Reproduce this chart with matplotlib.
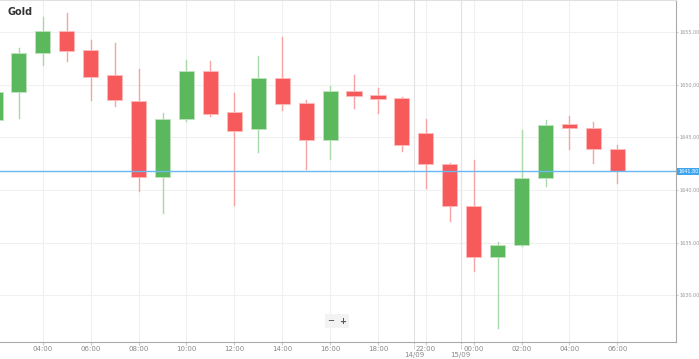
import numpy as np
import matplotlib
matplotlib.use("Agg")
import matplotlib.pyplot as plt
from matplotlib.patches import Rectangle

# hourly candles, left to right
opens = [1646.66, 1649.33, 1653.03, 1655.12, 1653.32, 1650.94, 1648.47, 1641.25, 1646.76,
         1651.32, 1647.42, 1645.81, 1650.66, 1648.28, 1644.76, 1649.42, 1649.04, 1648.75,
         1645.42, 1642.48, 1638.49, 1633.64, 1634.78, 1641.15, 1646.28, 1645.90, 1643.90]
closes = [1649.33, 1653.03, 1655.12, 1653.22, 1650.75, 1648.56, 1641.25, 1646.76, 1651.32,
          1647.23, 1645.62, 1650.66, 1648.18, 1644.76, 1649.42, 1648.94, 1648.66, 1644.29,
          1642.48, 1638.49, 1633.64, 1634.78, 1641.15, 1646.18, 1645.90, 1643.90, 1641.80]
highs = [1649.50, 1653.50, 1656.45, 1656.83, 1654.27, 1653.98, 1651.51, 1647.33, 1652.37,
         1652.27, 1649.23, 1652.75, 1654.55, 1648.56, 1649.90, 1650.94, 1649.70, 1648.85,
         1646.76, 1642.60, 1642.86, 1635.07, 1645.71, 1646.66, 1647.04, 1646.47, 1644.29]
lows = [1646.47, 1646.85, 1651.90, 1652.27, 1648.56, 1647.99, 1639.91, 1637.82, 1646.57,
        1647.04, 1638.58, 1643.62, 1647.61, 1642.00, 1642.95, 1647.80, 1647.33, 1643.72,
        1640.20, 1637.06, 1632.31, 1626.90, 1634.70, 1640.39, 1643.90, 1642.57, 1640.67]

tick_pos = [2, 4, 6, 8, 10, 12, 14, 16, 18, 20, 22, 24, 26]
tick_labels = ["04:00", "06:00", "08:00", "10:00", "12:00", "14:00", "16:00",
               "18:00", "22:00", "00:00", "02:00", "04:00", "06:00"]
date_pos = [17.5, 19.45]
date_labels = ["14/09", "15/09"]
y_ticks = [1630, 1635, 1640, 1645, 1650, 1655]
last_price = 1641.80

green, red = "#5cb85c", "#f65a5a"
green_w, red_w = "#a9d9a9", "#f7a3a3"

fig = plt.figure(figsize=(6.99, 3.59), dpi=100)
ax = fig.add_axes([0, 1 - 342 / 359, 676 / 699, 342 / 359])

w = 0.63
for i in range(len(opens)):
    o, c, h, l = opens[i], closes[i], highs[i], lows[i]
    up = c >= o
    ax.plot([i, i], [l, h], color=green_w if up else red_w, lw=1, zorder=2)
    ax.add_patch(Rectangle((i - w / 2, min(o, c)), w, max(abs(c - o), 0.3),
                           facecolor=green if up else red,
                           edgecolor="#bfe3bf" if up else "#fbb", lw=0.6, zorder=3))

ax.set_xlim(0.21, 28.45)
ax.set_ylim(1625.56, 1658.07)

for y in y_ticks:
    ax.axhline(y, color="#f0f0f0", lw=0.8, zorder=0)
for x in tick_pos:
    ax.axvline(x, color="#f0f0f0", lw=0.8, zorder=0)
for x in date_pos:
    ax.axvline(x, color="#e2e2e2", lw=0.8, zorder=0)

ax.axhline(last_price, color="#6ab8f2", lw=1, zorder=4)

ax.set_xticks(tick_pos)
ax.set_xticklabels(tick_labels, fontsize=5, color="#888888")
ax.tick_params(axis="x", length=2, color="#cccccc", pad=1)
for x, t in zip(date_pos, date_labels):
    ax.annotate(t, xy=(x, 0), xycoords=("data", "axes fraction"), xytext=(0, -9),
                textcoords="offset points", ha="center", va="center",
                fontsize=5, color="#888888", annotation_clip=False)
    ax.plot([x, x], [0, -0.02], transform=ax.get_xaxis_transform(), color="#bbbbbb",
            lw=0.6, ls=(0, (2, 1)), clip_on=False)

ax.yaxis.tick_right()
ax.set_yticks(y_ticks)
ax.set_yticklabels([f"{v:.2f}" for v in y_ticks], fontsize=3.5, color="#999999")
ax.tick_params(axis="y", length=1.5, color="#cccccc", pad=0.8)

ax.text(1.003, last_price, f"{last_price:.2f}", transform=ax.get_yaxis_transform(),
        fontsize=3.5, color="white", va="center", ha="left", zorder=5,
        bbox=dict(boxstyle="square,pad=0.2", fc="#3ea6ee", ec="none"))

ax.spines["left"].set_visible(False)
ax.spines["top"].set_color("#e0e0e0")
ax.spines["bottom"].set_color("#aaaaaa")
ax.spines["right"].set_color("#aaaaaa")

ax.text(8 / 676, 1 - 12 / 342, "Gold", transform=ax.transAxes, fontsize=7,
        fontweight="bold", color="#333333", va="center", ha="left")

for dx, s in [(331, "\u2212"), (343, "+")]:
    ax.text(dx / 676, 1 - 321 / 342, s, transform=ax.transAxes, fontsize=6,
            color="#555555", ha="center", va="center", fontweight="bold",
            bbox=dict(boxstyle="square,pad=0.3", fc="#f3f3f3", ec="none"))

fig.savefig("out.png", dpi=100)
